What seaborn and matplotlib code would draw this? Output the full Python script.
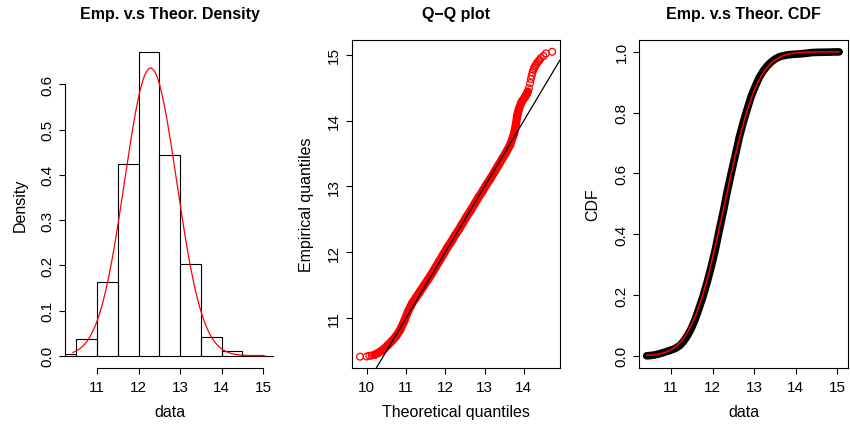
import numpy as np
import matplotlib
matplotlib.use("Agg")
import matplotlib.pyplot as plt
import seaborn as sns
from statistics import NormalDist

# ---------------- data ----------------
bin_edges = [10.0, 10.5, 11.0, 11.5, 12.0, 12.5, 13.0, 13.5, 14.0, 14.5, 15.0, 15.5]
bin_density = [0.003, 0.0375, 0.163, 0.4245, 0.672, 0.445, 0.2024, 0.0426, 0.0104, 0.002, 0.0005]

fit_mean = 12.29
fit_sd = 0.627
data_min = 10.417
data_max = 15.045

# Q-Q plot points: theoretical quantile (x) vs empirical quantile (y)
theo_q = [9.83, 10.00, 10.07, 10.13, 10.20, 10.28, 10.36, 10.45, 10.55, 10.65,
          10.75, 10.85, 10.95, 11.05, 11.15, 11.25, 11.35, 11.45, 11.55, 11.65,
          11.75, 11.85, 11.95, 12.05, 12.15, 12.25, 12.35, 12.45, 12.55, 12.65,
          12.75, 12.85, 12.95, 13.05, 13.15, 13.25, 13.35, 13.45, 13.55, 13.65,
          13.75, 13.80, 13.83, 13.87, 13.94, 14.03, 14.07, 14.10, 14.13, 14.16,
          14.18, 14.20, 14.22, 14.24, 14.26, 14.29, 14.31, 14.34, 14.37, 14.40,
          14.43, 14.50, 14.56, 14.72]
emp_q = [10.417, 10.420, 10.430, 10.435, 10.445, 10.470, 10.500, 10.540, 10.600, 10.660,
         10.730, 10.820, 10.950, 11.100, 11.220, 11.310, 11.400, 11.490, 11.580, 11.670,
         11.770, 11.870, 11.970, 12.070, 12.160, 12.260, 12.350, 12.450, 12.550, 12.640,
         12.740, 12.840, 12.930, 13.030, 13.120, 13.220, 13.320, 13.420, 13.520, 13.630,
         13.800, 13.950, 14.070, 14.170, 14.280, 14.360, 14.400, 14.440, 14.490, 14.570,
         14.630, 14.680, 14.730, 14.770, 14.800, 14.830, 14.850, 14.880, 14.900, 14.920,
         14.950, 14.980, 15.020, 15.045]

hist_ticks_y = [0.0, 0.1, 0.2, 0.3, 0.4, 0.5, 0.6]
hist_ticks_x = [11, 12, 13, 14, 15]
qq_ticks_x = [10, 11, 12, 13, 14]
qq_ticks_y = [11, 12, 13, 14, 15]
cdf_ticks_x = [11, 12, 13, 14, 15]
cdf_ticks_y = [0.0, 0.2, 0.4, 0.6, 0.8, 1.0]

# ---------------- style ----------------
sns.set_style("ticks")
plt.rcParams['font.family'] = ['Liberation Sans', 'DejaVu Sans']
plt.rcParams['axes.linewidth'] = 0.8
plt.rcParams['xtick.major.size'] = 4.3
plt.rcParams['ytick.major.size'] = 4.3
plt.rcParams['xtick.major.width'] = 0.8
plt.rcParams['ytick.major.width'] = 0.8
plt.rcParams['xtick.color'] = 'black'
plt.rcParams['ytick.color'] = 'black'
plt.rcParams['axes.edgecolor'] = 'black'
plt.rcParams['axes.labelcolor'] = 'black'
plt.rcParams['text.color'] = 'black'

TICK_FS = 11
LAB_FS = 11.5
TITLE_FS = 11.5

W, H = 850, 427
fig = plt.figure(figsize=(8.5, 4.27), dpi=100)

def add_ax(x0, x1, ytop=40.7, ybot=369.0):
    return fig.add_axes([x0 / W, (H - ybot) / H, (x1 - x0) / W, (ybot - ytop) / H])

ax1 = add_ax(65, 274)
ax2 = add_ax(352, 560)
ax3 = add_ax(639.3, 847.7)

norm = NormalDist(fit_mean, fit_sd)

# ---------------- panel 1: density ----------------
mids = [(a + b) / 2 for a, b in zip(bin_edges[:-1], bin_edges[1:])]
sns.histplot(x=mids, weights=bin_density, bins=bin_edges, stat='count',
             fill=False, color='black', linewidth=0.8, element='bars', ax=ax1)
xs = np.linspace(data_min, data_max, 400)
sns.lineplot(x=xs, y=[norm.pdf(v) for v in xs], color='red', linewidth=0.9, ax=ax1)
ax1.set_xlim(10.23, 15.26)
ax1.set_ylim(-0.0269, 0.699)
for s in ['top', 'right']:
    ax1.spines[s].set_visible(False)
ax1.spines['left'].set_bounds(0, 0.6)
ax1.spines['bottom'].set_bounds(11, 15)
ax1.set_xticks(hist_ticks_x)
ax1.set_yticks(hist_ticks_y)
ax1.set_yticklabels([f"{v:.1f}" for v in hist_ticks_y])

# ---------------- panel 2: Q-Q ----------------
theo = np.array(theo_q)
emp = np.array(emp_q)
dense = (theo >= 10.15) & (theo <= 14.1)
sns.lineplot(x=theo[dense], y=emp[dense], color='red', linewidth=6.0, sort=False,
             ax=ax2)
ax2.lines[-1].set_solid_capstyle('round')
ax2.lines[-1].set_solid_joinstyle('round')
ax2.scatter(theo, emp, s=24, facecolors='none', edgecolors='red', linewidths=0.9, zorder=3)
ax2.axline((10, 10), (11, 11), color='black', linewidth=0.9, zorder=4)
ax2.set_xlim(9.626, 14.92)
ax2.set_ylim(10.245, 15.228)
ax2.set_xticks(qq_ticks_x)
ax2.set_yticks(qq_ticks_y)

# ---------------- panel 3: CDF ----------------
probs = np.array([norm.cdf(v) for v in theo_q])
sns.lineplot(x=emp, y=probs, color='black', linewidth=5.5, sort=False, ax=ax3)
ax3.lines[-1].set_solid_capstyle('round')
ax3.lines[-1].set_solid_joinstyle('round')
sns.lineplot(x=xs, y=[norm.cdf(v) for v in xs], color='red', linewidth=1.1, ax=ax3)
ax3.set_xlim(10.24, 15.25)
ax3.set_ylim(-0.04, 1.04)
ax3.set_xticks(cdf_ticks_x)
ax3.set_yticks(cdf_ticks_y)
ax3.set_yticklabels([f"{v:.1f}" for v in cdf_ticks_y])

# ---------------- common text ----------------
titles = ["Emp. v.s Theor. Density", "Q\u2212Q plot", "Emp. v.s Theor. CDF"]
xlabels = ["data", "Theoretical quantiles", "data"]
ylabels = ["Density", "Empirical quantiles", "CDF"]
ylab_x = [20, 306.7, 592.7]
lefts = [65, 352, 639.3]
widths = [209, 208, 208.4]

for ax, t, xl, yl, yx, l, w in zip([ax1, ax2, ax3], titles, xlabels, ylabels,
                                   ylab_x, lefts, widths):
    ax.tick_params(axis='both', labelsize=TICK_FS, direction='out',
                   labelcolor='black')
    ax.tick_params(axis='x', pad=4.5)
    ax.tick_params(axis='y', pad=3.5, labelrotation=90)
    for lab in ax.get_yticklabels():
        lab.set_va('center')
    ax.set_xlabel(xl, fontsize=LAB_FS, color='black')
    ax.set_ylabel(yl, fontsize=LAB_FS, color='black')
    ax.xaxis.label.set_va('center')
    ax.xaxis.set_label_coords(0.5, -44.0 / 328.3)
    ax.yaxis.label.set_va('center')
    ax.yaxis.set_label_coords((yx - l) / w, 0.5)
    ax.text(0.5, 1 + 25.7 / 328.3, t, transform=ax.transAxes, ha='center',
            va='center', fontsize=TITLE_FS, fontweight='bold', color='black')

fig.savefig("out.png", dpi=100)
